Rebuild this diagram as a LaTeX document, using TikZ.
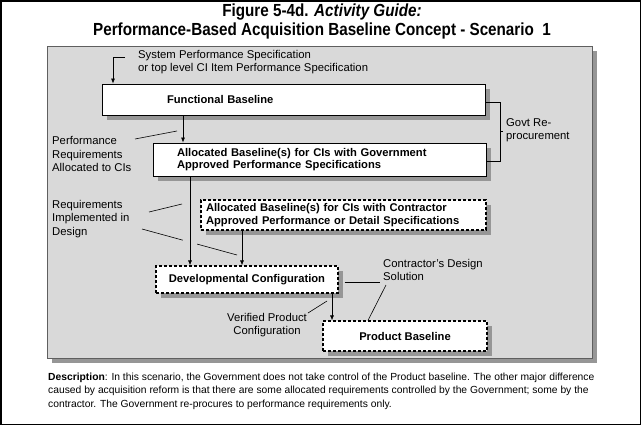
\documentclass[tikz,border=0pt]{standalone}
\usepackage{fontspec}
\setmainfont{Liberation Sans}
\newfontfamily\titlefont[FakeStretch=0.87]{Liberation Sans}
\usetikzlibrary{arrows.meta,shadows,calc}

\definecolor{panelgray}{RGB}{217,217,217}
\definecolor{shadegray}{RGB}{150,150,150}
\definecolor{edgegray}{RGB}{95,95,95}

\tikzset{
    box/.style={draw=black, fill=white, line width=0.8pt, inner ysep=0pt,
        drop shadow={shadow xshift=5pt, shadow yshift=-5pt, fill=shadegray, opacity=1},
        font=\fontsize{11.2}{12.5}\selectfont\bfseries},
    dbox/.style={box, dash pattern=on 3pt off 2pt, line width=1.1pt},
    lbl/.style={font=\fontsize{11.3}{13.5}\selectfont, align=left, inner sep=0pt},
    ttl/.style={font=\titlefont\bfseries\fontsize{17.5}{19}\selectfont},
    arr/.style={-{Latex[length=5pt,width=4pt]}, line width=0.7pt},
    lead/.style={line width=0.6pt}
}

\begin{document}
\begin{tikzpicture}[x=1pt, y=-1pt]

        \useasboundingbox (0,0) rectangle (643,426);
        \draw[line width=1.2pt] (1,1) rectangle (640.5,424.5);

        \node[ttl] (T1) at (322,12) {Figure 5-4d. \textit{Activity Guide:}};
        \node[ttl] (T2) at (322,31) {Performance-Based Acquisition Baseline Concept - Scenario\ \ 1};

        \node[draw=edgegray, fill=panelgray, line width=0.8pt, minimum width=545pt, minimum height=312pt,
            drop shadow={shadow xshift=5pt, shadow yshift=-5pt, fill=shadegray, opacity=1}] (panel) at (319.5,202) {};

        \node[box, minimum width=383pt, minimum height=31pt, inner xsep=65pt, text width=253pt, align=left] (func) at (293.5,99.5) {Functional Baseline};
        \node[box, minimum width=333pt, minimum height=33pt, inner xsep=24pt, text width=285pt, align=left] (govt) at (319.5,159.5)
            {Allocated Baseline(s) for CIs with Government\\Approved Performance Specifications};
        \node[dbox, minimum width=285pt, minimum height=30pt, inner xsep=5pt, text width=275pt, align=left] (contr) at (343.5,215)
            {Allocated Baseline(s) for CIs with Contractor\\Approved Performance or Detail Specifications};
        \node[dbox, minimum width=182pt, minimum height=27pt, inner xsep=0pt, align=center] (dev) at (247,279.5) {Developmental Configuration};
        \node[dbox, minimum width=164pt, minimum height=30pt, inner xsep=0pt, align=center] (prod) at (405,336) {Product Baseline};

        \node[lbl, anchor=west] (spec) at (138,62) {System Performance Specification\\or top level CI Item Performance Specification};
        \node[lbl, anchor=west] (perf) at (52,154) {Performance\\Requirements\\Allocated to CIs};
        \node[lbl, anchor=west] (req) at (52,219) {Requirements\\Implemented in\\Design};
        \node[lbl, anchor=west] (reproc) at (506,130) {Govt Re-\\procurement};
        \node[lbl, anchor=west] (sol) at (383,270) {Contractor's Design\\Solution};
        \node[lbl, align=center] (verif) at (267,325) {Verified Product\\Configuration};
        \node[font=\fontsize{10.3}{13.5}\selectfont, align=left, inner sep=0pt, anchor=west] (desc) at (48,391)
            {\textbf{Description}: In this scenario, the Government does not take control of the Product baseline. The other major difference\\
             caused by acquisition reform is that there are some allocated requirements controlled by the Government; some by the\\
             contractor. The Government re-procures to performance requirements only.};

        \coordinate (s0) at (125,57);
        \coordinate (s1) at (113,57);
        \coordinate (c1) at (183,0);
        \coordinate (c2) at (190,0);
        \coordinate (c3) at (242,0);
        \coordinate (c4) at (332,0);
        \coordinate (b1) at (500,102);
        \coordinate (b2) at (500,161);

        \draw[arr] (s0) -- (s1) -- (s1 |- func.north);
        \draw[arr] (c1 |- func.south) -- (c1 |- govt.north);
        \draw[arr] (c2 |- govt.south) -- (c2 |- dev.north);
        \draw[arr] (c3 |- contr.south) -- (c3 |- dev.north);
        \draw[arr] (c4 |- dev.south) -- (c4 |- prod.north);

        \draw[lead] (b1 -| func.east) -- (b1) -- (b2) -- (b2 -| govt.east);
        \draw[lead] ($(b1)!0.5!(b2)$) -- ++(3,0);

        \coordinate (p1) at (135,139);
        \coordinate (p2) at (177,131);
        \coordinate (r1) at (149,212);
        \coordinate (r2) at (182,204);
        \coordinate (r3) at (142,229);
        \coordinate (r4) at (237,255);
        \coordinate (v1) at (308,313);
        \coordinate (v2) at (327,301);
        \coordinate (d1) at (380,282);
        \coordinate (d2) at (386,285);
        \coordinate (d3) at (368,0);

        \draw[lead] (p1) -- (p2);
        \draw[lead] (r1) -- (r2);
        \draw[lead] (r3) -- ($(r3)!0.43!(r4)$);
        \draw[lead] ($(r3)!0.58!(r4)$) -- (r4);
        \draw[lead] (v1) -- (v2);
        \draw[lead] ([xshift=6pt]dev.east |- d1) -- (d1);
        \draw[lead] (d2) -- (d3 |- prod.north);

\end{tikzpicture}
\end{document}
